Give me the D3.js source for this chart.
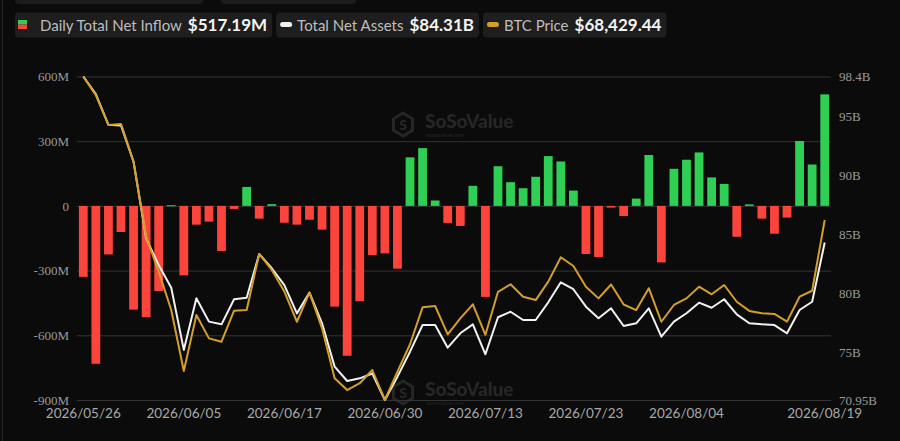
<!DOCTYPE html>
<html>
<head>
<meta charset="utf-8">
<script src="https://cdn.jsdelivr.net/npm/d3@7"></script>
<style>
  html, body { margin: 0; padding: 0; background: #0b0b0b; }
  svg { display: block; }
</style>
</head>
<body>
<div id="chart"></div>
<script>
// data
var dates = ["2026/05/26","2026/05/27","2026/05/28","2026/05/29","2026/06/01","2026/06/02","2026/06/03","2026/06/04","2026/06/05",
  "2026/06/08","2026/06/09","2026/06/10","2026/06/11","2026/06/12","2026/06/15","2026/06/16","2026/06/17","2026/06/18",
  "2026/06/22","2026/06/23","2026/06/24","2026/06/25","2026/06/26","2026/06/29","2026/06/30","2026/07/01","2026/07/02",
  "2026/07/06","2026/07/07","2026/07/08","2026/07/09","2026/07/10","2026/07/13","2026/07/14","2026/07/15","2026/07/16",
  "2026/07/17","2026/07/20","2026/07/21","2026/07/22","2026/07/23","2026/07/24","2026/07/27","2026/07/28","2026/07/29",
  "2026/07/30","2026/07/31","2026/08/03","2026/08/04","2026/08/05","2026/08/06","2026/08/07","2026/08/10","2026/08/11",
  "2026/08/12","2026/08/13","2026/08/14","2026/08/17","2026/08/18","2026/08/19"];

// daily total net inflow, millions USD
var inflow = [-329, -732, -225, -121, -481, -516, -395, 3, -322, -87, -73, -209, -14, 88, -59, 8, -78, -87, -64, -110,
  -467, -695, -442, -228, -220, -291, 225, 268, 25, -79, -93, 93, -422, 184, 110, 82, 135, 231, 206, 71,
  -223, -237, -8, -47, 34, 236, -262, 172, 214, 248, 132, 102, -143, 7, -59, -129, -54, 301, 192, 517.19];

// total net assets, billions USD
var assets = [98.4, 96.9, 94.3, 94.25, 91.17, 84.67, 82.4, 80.48, 75.2, 79.58, 77.6, 77.37, 79.5, 79.63, 83.34, 82.13, 80.7, 78.3, 80.06, 77.46,
  73.78, 72.56, 72.79, 73.2, 70.95, 72.93, 75.05, 77.31, 77.31, 75.39, 76.61, 77.37, 74.83, 77.97, 78.44, 77.74, 77.74, 79.24, 80.94, 80.35,
  78.87, 77.88, 78.73, 77.23, 77.46, 78.73, 76.32, 77.6, 78.31, 79.21, 78.78, 79.5, 78.22, 77.46, 77.37, 77.31, 76.61, 78.59, 79.29, 84.31];

// btc price, usd
var btc = [76900, 75800, 74040, 74100, 71870, 67440, 65380, 63110, 59510, 62820, 61440, 61240, 63070, 63110, 66420, 65480, 64200, 62420, 64140, 62030,
  59080, 58390, 58790, 59570, 57800, 59470, 61090, 63270, 63350, 61680, 62620, 63450, 61650, 64190, 64630, 63900, 63700, 64790, 66230, 65710,
  64490, 63800, 64620, 63440, 63110, 64400, 62420, 63410, 63800, 64490, 64040, 64590, 63600, 63060, 62920, 62880, 62430, 63900, 64250, 68429.44];

var leftTicks = [-900, -600, -300, 0, 300, 600];
var rightTicks = [70.95, 75, 80, 85, 90, 95, 98.4];
var labelIdx = [0, 8, 16, 24, 32, 40, 48, 59];

var W = 900, H = 441;
var plotL = 77, plotR = 831, plotT = 76.5, plotB = 400;

var svg = d3.select("#chart").append("svg").attr("width", W).attr("height", H);
svg.append("rect").attr("width", W).attr("height", H).attr("fill", "#0b0b0b");
// thin frame edge on the left
svg.append("line").attr("x1", 2.5).attr("x2", 2.5).attr("y1", 0).attr("y2", H)
  .attr("stroke", "#262626").attr("stroke-width", 1);

// scales
var x = d3.scaleBand().domain(d3.range(dates.length)).range([plotL, plotR]).paddingInner(0.3).paddingOuter(0.15);
var yL = d3.scaleLinear().domain([-900, 600]).range([plotB, plotT]);
var yR = d3.scaleLinear().domain(d3.extent(assets)).range([plotB, plotT]);
var yB = d3.scaleLinear().domain(d3.extent(btc)).range([plotB, plotT]);
var cx = function(i){ return x(i) + x.bandwidth() / 2; };

// watermark
function watermark(tx, ty) {
  var g = svg.append("g").attr("transform", "translate(" + tx + "," + ty + ")").attr("fill", "#262626");
  var hex = d3.range(6).map(function(k){ var a = Math.PI / 3 * k - Math.PI / 2; return [10 + 11 * Math.cos(a), 11.5 + 11.5 * Math.sin(a)]; });
  g.append("path").attr("d", d3.line()(hex) + "Z").attr("fill", "none").attr("stroke", "#262626").attr("stroke-width", 3);
  g.append("text").attr("x", 10).attr("y", 17).attr("text-anchor", "middle")
    .attr("font-family", "Lato").attr("font-weight", 900).attr("font-size", 14).text("S");
  g.append("text").attr("x", 32).attr("y", 15).attr("font-family", "Lato").attr("font-weight", 900)
    .attr("font-size", 19).text("SoSoValue");
  g.append("text").attr("x", 33).attr("y", 24).attr("font-family", "Lato").attr("font-size", 6).text("sosovalue.com");
}
watermark(393, 113);
watermark(393, 381);

// left axis + grid
var gL = svg.append("g").attr("transform", "translate(" + plotL + ",0)")
  .call(d3.axisLeft(yL).tickValues(leftTicks).tickSize(-(plotR - plotL)).tickPadding(8)
    .tickFormat(function(d){ return d === 0 ? "0" : d + "M"; }));
gL.select(".domain").remove();
gL.selectAll(".tick line").attr("stroke", "#343434").attr("stroke-width", 1);
gL.selectAll(".tick text").attr("fill", "#9a9a9a").attr("font-family", "Liberation Serif").attr("font-size", 13);

// right axis
var gR = svg.append("g").attr("transform", "translate(" + (plotR + 8) + ",0)")
  .call(d3.axisRight(yR).tickValues(rightTicks).tickSize(0).tickPadding(0)
    .tickFormat(function(d){ return d + "B"; }));
gR.select(".domain").remove();
gR.selectAll(".tick text").attr("fill", "#9a9a9a").attr("font-family", "Liberation Serif").attr("font-size", 13);

// bottom labels
var gX = svg.append("g").attr("transform", "translate(0," + plotB + ")")
  .call(d3.axisBottom(x).tickValues(labelIdx).tickSize(0).tickPadding(8)
    .tickFormat(function(i){ return dates[i]; }));
gX.select(".domain").remove();
gX.selectAll(".tick text").attr("fill", "#a8a8a8").attr("font-family", "Lato").attr("font-size", 13.5);

// bars
svg.append("g").selectAll("rect").data(inflow).enter().append("rect")
  .attr("x", function(d, i){ return x(i); })
  .attr("width", x.bandwidth())
  .attr("y", function(d){ return yL(Math.max(0, d)); })
  .attr("height", function(d){ return Math.max(1, Math.abs(yL(d) - yL(0))); })
  .attr("fill", function(d){ return d >= 0 ? "#2fcf55" : "#fb443b"; });

// lines
var lineA = d3.line().x(function(d, i){ return cx(i); }).y(function(d){ return yR(d); });
var lineB = d3.line().x(function(d, i){ return cx(i); }).y(function(d){ return yB(d); });
svg.append("path").attr("d", lineA(assets)).attr("fill", "none").attr("stroke", "#f2f2f2")
  .attr("stroke-width", 2).attr("stroke-linejoin", "round");
svg.append("path").attr("d", lineB(btc)).attr("fill", "none").attr("stroke", "#d39f2a")
  .attr("stroke-width", 2).attr("stroke-linejoin", "round");

// legend
svg.append("rect").attr("x", 15).attr("y", -20).attr("width", 188).attr("height", 24).attr("rx", 4).attr("fill", "#1c1c1c");
svg.append("rect").attr("x", 221).attr("y", -20).attr("width", 135).attr("height", 24).attr("rx", 4).attr("fill", "#1c1c1c");

var legend = [
  { label: "Daily Total Net Inflow", value: "$517.19M", kind: "bar" },
  { label: "Total Net Assets", value: "$84.31B", kind: "line", color: "#f2f2f2" },
  { label: "BTC Price", value: "$68,429.44", kind: "line", color: "#d39f2a" }
];
var lx = 15;
legend.forEach(function(item){
  var g = svg.append("g").attr("transform", "translate(" + lx + ",12.5)");
  var bg = g.append("rect").attr("height", 25).attr("rx", 4).attr("fill", "#1e1e1e");
  var tx;
  if (item.kind === "bar") {
    g.append("rect").attr("x", 3).attr("y", 7.5).attr("width", 9).attr("height", 4.5).attr("fill", "#2fcf55");
    g.append("rect").attr("x", 3).attr("y", 12).attr("width", 9).attr("height", 4.5).attr("fill", "#fb443b");
    tx = 25;
  } else {
    g.append("rect").attr("x", 4).attr("y", 9.5).attr("width", 12).attr("height", 5).attr("rx", 2.5).attr("fill", item.color);
    tx = 21;
  }
  var t1 = g.append("text").attr("x", tx).attr("y", 18).attr("fill", "#bdbdbd")
    .attr("font-family", "Lato").attr("font-size", 15).text(item.label);
  var w1 = t1.node().getComputedTextLength();
  var t2 = g.append("text").attr("x", tx + w1 + 6).attr("y", 18.5).attr("fill", "#f4f4f4")
    .attr("font-family", "Lato").attr("font-weight", 700).attr("font-size", 17).text(item.value);
  var w = tx + w1 + 6 + t2.node().getComputedTextLength() + 5;
  bg.attr("width", w);
  lx += w + 4;
});
</script>
</body>
</html>
